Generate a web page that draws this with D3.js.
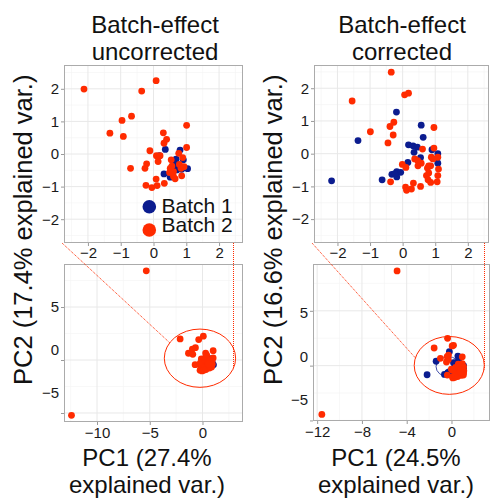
<!DOCTYPE html>
<html>
<head>
<meta charset="utf-8">
<script src="https://cdn.jsdelivr.net/npm/d3@7"></script>
<style>
  html, body { margin: 0; padding: 0; background: #fff; }
  svg { display: block; font-family: "Liberation Sans", Arial, sans-serif; }
</style>
</head>
<body>
<svg id="chart" width="493" height="504"></svg>
<script>
// PCA scores, batch-effect uncorrected (PC1, PC2)
const uncorrectedBatch1 = [
  [0.36, 0.14], [0.81, 0.12], [0.18, -0.05], [0.69, -0.16], [0.91, -0.18],
  [0.76, -0.39], [0.91, -0.41], [1.04, -0.45], [0.32, -0.61], [0.51, -0.71],
  [0.71, -0.49], [0.86, -0.47], [0.66, -0.32]
];
const uncorrectedBatch2 = [
  [-2.12, 1.99], [0.08, 2.25], [-0.36, 1.93], [-0.96, 1.03], [-0.67, 1.16],
  [-1.33, 0.64], [-0.92, 0.54], [1.01, 0.88], [0.30, 0.65], [0.40, 0.45],
  [0.32, 0.33], [-0.11, 0.10], [0.09, -0.05], [0.20, -0.05], [0.14, -0.23],
  [-0.21, -0.30], [-0.26, -0.44], [-0.70, -0.44], [0.54, -0.18], [0.77, 0.02],
  [1.01, 0.20], [0.89, -0.11], [0.79, -0.32], [0.51, -0.44], [0.49, -0.57],
  [0.61, -0.69], [0.66, -0.76], [0.86, -0.67], [0.84, -0.44], [0.08, -0.77],
  [-0.23, -0.96], [-0.05, -1.03], [0.11, -0.97], [0.33, -0.90], [0.61, -0.54],
  [0.93, -0.39], [0.56, -0.37],
  [-5.33, 8.42], [-12.42, -5.22]
];

// PCA scores, batch-effect corrected (PC1, PC2)
const correctedBatch1 = [
  [-0.19, 1.27], [-1.37, 0.40], [-2.18, -0.83], [-0.63, -0.80], [-0.33, -0.63],
  [-0.18, -0.55], [-0.06, -0.57], [-0.18, -0.71], [-0.24, -0.61], [0.16, -0.27],
  [0.57, 0.87], [0.63, 0.50], [0.18, 0.27], [0.32, 0.24], [0.45, 0.20],
  [0.35, 0.04], [0.55, -0.12], [0.90, 0.12], [1.08, 0.00], [1.08, -0.29]
];
const correctedBatch2 = [
  [-0.35, 2.49], [-1.55, 1.61], [0.06, 1.80], [0.18, 1.85], [-0.27, 0.96],
  [-0.39, 0.83], [-0.99, 0.67], [-0.29, 0.57], [-0.45, 0.33], [0.96, 0.80],
  [0.61, 0.14], [0.96, 0.17], [0.88, -0.11], [0.93, -0.16], [1.08, -0.11],
  [0.37, -0.16], [0.46, -0.21], [0.57, -0.29], [0.47, -0.37], [-0.01, -0.33],
  [0.10, -0.42], [0.80, -0.37], [0.76, -0.44], [0.86, -0.37], [1.10, -0.47],
  [0.73, -0.67], [0.78, -0.80], [1.08, -0.67], [0.86, -0.88], [1.06, -0.86],
  [-0.37, -0.86], [0.09, -1.02], [0.12, -1.12], [0.27, -1.08], [0.33, -0.90],
  [0.55, -1.00], [0.80, -0.59],
  [-4.86, 8.64], [-11.58, -4.45]
];

const batchLabels = ["Batch 1", "Batch 2"];
const titles = [["Batch-effect", "uncorrected"], ["Batch-effect", "corrected"]];
const xTitles = [["PC1 (27.4%", "explained var.)"], ["PC1 (24.5%", "explained var.)"]];
const yTitles = ["PC2 (17.4% explained var.)", "PC2 (16.6% explained var.)"];

const insetTicks = [-2, -1, 0, 1, 2];
const insetMinor = [-2.5, -1.5, -0.5, 0.5, 1.5, 2.5];
const mainYTicks = [-5, 0, 5];
const mainYMinor = [-2.5, 2.5, 7.5];
const leftXTicks = [-10, -5, 0];
const leftXMinor = [-12.5, -7.5, -2.5, 2.5];
const rightXTicks = [-12, -8, -4, 0];
const rightXMinor = [-10, -6, -2, 2];

const RED = "#ff2b00";
const BLUE = "#0b1c8f";

const svg = d3.select("#chart");

const panels = [
  {
    b1: uncorrectedBatch1, b2: uncorrectedBatch2,
    inset: { left: 64, right: 243, top: 65, bottom: 243, xd: [-2.73, 2.73], yd: [-2.73, 2.73] },
    main: { left: 64, right: 243, top: 264, bottom: 422, xd: [-13.13, 3.84], yd: [-5.85, 9.06],
            xt: leftXTicks, xm: leftXMinor, labelRange: [307, 393] },
    zoomEllipse: { cx: -0.24, cy: 0.17, rx: 3.38, ry: 2.75 },
    batchEllipse: null,
    projAngles: [148, -22],
    titleX: 155, xTitleX: 147, yTitleX: 32, legend: true
  },
  {
    b1: correctedBatch1, b2: correctedBatch2,
    inset: { left: 314, right: 489, top: 65, bottom: 243, xd: [-2.72, 2.65], yd: [-2.73, 2.71] },
    main: { left: 313, right: 490, top: 264, bottom: 421, xd: [-12.37, 3.44], yd: [-5.05, 9.27],
            xt: rightXTicks, xm: rightXMinor, labelRange: [312.7, 400] },
    zoomEllipse: { cx: -0.2, cy: 0.02, rx: 3.13, ry: 2.64 },
    batchEllipse: { cx: -0.31, cy: -0.09, rx: 1.07, ry: 0.91 },
    projAngles: [165, -8],
    titleX: 402, xTitleX: 396, yTitleX: 282, legend: false
  }
];

function drawFrame(g, box, x, y, xMajor, xMinor, yMajor, yMinor, id) {
  g.append("rect")
    .attr("x", box.left).attr("y", box.top)
    .attr("width", box.right - box.left).attr("height", box.bottom - box.top)
    .attr("fill", "#fff");
  const grid = g.append("g");
  grid.selectAll(".vmin").data(xMinor).join("line")
    .attr("x1", d => x(d)).attr("x2", d => x(d))
    .attr("y1", box.top).attr("y2", box.bottom)
    .attr("stroke", "#f4f4f4").attr("stroke-width", 0.6);
  grid.selectAll(".hmin").data(yMinor).join("line")
    .attr("y1", d => y(d)).attr("y2", d => y(d))
    .attr("x1", box.left).attr("x2", box.right)
    .attr("stroke", "#f4f4f4").attr("stroke-width", 0.6);
  grid.selectAll(".vmaj").data(xMajor).join("line")
    .attr("x1", d => x(d)).attr("x2", d => x(d))
    .attr("y1", box.top).attr("y2", box.bottom)
    .attr("stroke", "#e8e8e8").attr("stroke-width", 1);
  grid.selectAll(".hmaj").data(yMajor).join("line")
    .attr("y1", d => y(d)).attr("y2", d => y(d))
    .attr("x1", box.left).attr("x2", box.right)
    .attr("stroke", "#e8e8e8").attr("stroke-width", 1);
  svg.append("defs").append("clipPath").attr("id", id)
    .append("rect")
    .attr("x", box.left).attr("y", box.top)
    .attr("width", box.right - box.left).attr("height", box.bottom - box.top);
}

function drawPoints(g, data, x, y, color, clipId) {
  g.append("g").attr("clip-path", `url(#${clipId})`)
    .selectAll("circle").data(data).join("circle")
    .attr("cx", d => x(d[0])).attr("cy", d => y(d[1]))
    .attr("r", 3.4).attr("fill", color);
}

function drawBorder(g, box) {
  g.append("rect")
    .attr("x", box.left + 0.5).attr("y", box.top + 0.5)
    .attr("width", box.right - box.left - 1).attr("height", box.bottom - box.top - 1)
    .attr("fill", "none").attr("stroke", "#ababab").attr("stroke-width", 1);
}

function styleAxis(sel, size) {
  sel.select(".domain").remove();
  sel.selectAll(".tick line").attr("stroke", "#9a9a9a");
  sel.selectAll(".tick text")
    .attr("fill", "#1a1a1a")
    .style("font-size", size + "px")
    .style("font-family", '"Liberation Sans", Arial, sans-serif');
}

panels.forEach((p, i) => {
  const g = svg.append("g");

  // ---- zoomed inset ----
  const ib = p.inset;
  const ix = d3.scaleLinear().domain(p.inset.xd).range([ib.left, ib.right]);
  const iy = d3.scaleLinear().domain(p.inset.yd).range([ib.bottom, ib.top]);
  drawFrame(g, ib, ix, iy, insetTicks, insetMinor, insetTicks, insetMinor, "clipInset" + i);
  drawPoints(g, p.b1, ix, iy, BLUE, "clipInset" + i);
  drawPoints(g, p.b2, ix, iy, RED, "clipInset" + i);
  drawBorder(g, ib);

  g.append("g").attr("transform", `translate(${ib.left},0)`)
    .call(d3.axisLeft(iy).tickValues(insetTicks).tickSize(3).tickPadding(2).tickFormat(d3.format("d")))
    .call(s => styleAxis(s, 15));
  g.append("g").attr("transform", `translate(0,${ib.bottom})`)
    .call(d3.axisBottom(ix).tickValues(insetTicks).tickSize(3).tickPadding(1).tickFormat(d3.format("d")))
    .call(s => styleAxis(s, 15));

  // ---- full view ----
  const mb = p.main;
  const mx = d3.scaleLinear().domain(mb.xd).range([mb.left, mb.right]);
  const my = d3.scaleLinear().domain(mb.yd).range([mb.bottom, mb.top]);
  drawFrame(g, mb, mx, my, mb.xt, mb.xm, mainYTicks, mainYMinor, "clipMain" + i);

  // small batch ellipse
  if (p.batchEllipse) {
    const e = p.batchEllipse;
    g.append("ellipse")
      .attr("cx", mx(e.cx)).attr("cy", my(e.cy))
      .attr("rx", mx(e.cx + e.rx) - mx(e.cx)).attr("ry", my(e.cy) - my(e.cy + e.ry))
      .attr("fill", "none").attr("stroke", BLUE).attr("stroke-width", 0.8);
  }
  drawPoints(g, p.b1, mx, my, BLUE, "clipMain" + i);
  drawPoints(g, p.b2, mx, my, RED, "clipMain" + i);
  drawBorder(g, mb);

  // y tick labels sit on their own label positions
  const labelY = d3.scaleLinear().domain([5, -5]).range(mb.labelRange);
  g.append("g").attr("transform", `translate(${mb.left},0)`)
    .call(d3.axisLeft(my).tickValues(mainYTicks).tickSize(3).tickPadding(2).tickFormat(d3.format("d")))
    .call(s => styleAxis(s, 15))
    .call(s => s.selectAll(".tick text").attr("y", d => labelY(d) - my(d)));
  g.append("g").attr("transform", `translate(0,${mb.bottom})`)
    .call(d3.axisBottom(mx).tickValues(mb.xt).tickSize(3).tickPadding(2).tickFormat(d3.format("d")))
    .call(s => styleAxis(s, 15));

  // magnified region and projection lines
  const z = p.zoomEllipse;
  const ecx = mx(z.cx), ecy = my(z.cy);
  const erx = mx(z.cx + z.rx) - ecx, ery = ecy - my(z.cy + z.ry);
  g.append("ellipse")
    .attr("cx", ecx).attr("cy", ecy).attr("rx", erx).attr("ry", ery)
    .attr("fill", "none").attr("stroke", RED).attr("stroke-width", 1);
  const pt = a => [ecx + erx * Math.cos(a * Math.PI / 180), ecy - ery * Math.sin(a * Math.PI / 180)];
  const p1 = pt(p.projAngles[0]);
  const p2 = pt(p.projAngles[1]);
  const vx = Math.round(p2[0]) + 0.5;
  g.append("line")
    .attr("x1", ib.left - 2).attr("y1", ib.bottom)
    .attr("x2", p1[0]).attr("y2", p1[1])
    .attr("stroke", RED).attr("stroke-width", 1).attr("stroke-dasharray", "1,1");
  g.append("line")
    .attr("x1", vx).attr("y1", ib.bottom)
    .attr("x2", vx).attr("y2", p2[1])
    .attr("stroke", RED).attr("stroke-width", 1).attr("stroke-dasharray", "1,1");

  // titles
  g.append("text").attr("x", p.titleX).attr("y", 33).attr("text-anchor", "middle")
    .style("font-size", "24px").attr("fill", "#111").text(titles[i][0]);
  g.append("text").attr("x", p.titleX).attr("y", 60).attr("text-anchor", "middle")
    .style("font-size", "24px").attr("fill", "#111").text(titles[i][1]);
  g.append("text").attr("x", p.xTitleX).attr("y", 466).attr("text-anchor", "middle")
    .style("font-size", "24px").attr("fill", "#111").text(xTitles[i][0]);
  g.append("text").attr("x", p.xTitleX).attr("y", 493).attr("text-anchor", "middle")
    .style("font-size", "24px").attr("fill", "#111").text(xTitles[i][1]);
  g.append("text")
    .attr("transform", `translate(${p.yTitleX},385) rotate(-90)`)
    .attr("text-anchor", "start")
    .style("font-size", "25.5px").attr("fill", "#111").text(yTitles[i]);

  // legend
  if (p.legend) {
    const lg = g.append("g");
    const colors = [BLUE, RED];
    const cy = [206.7, 230];
    const ty = [212.7, 232];
    batchLabels.forEach((lab, k) => {
      lg.append("circle").attr("cx", 149.3).attr("cy", cy[k]).attr("r", 6.8).attr("fill", colors[k]);
      lg.append("text").attr("x", 161.5).attr("y", ty[k])
        .style("font-size", "21px").attr("fill", "#111").text(lab);
    });
  }
});
</script>
</body>
</html>
